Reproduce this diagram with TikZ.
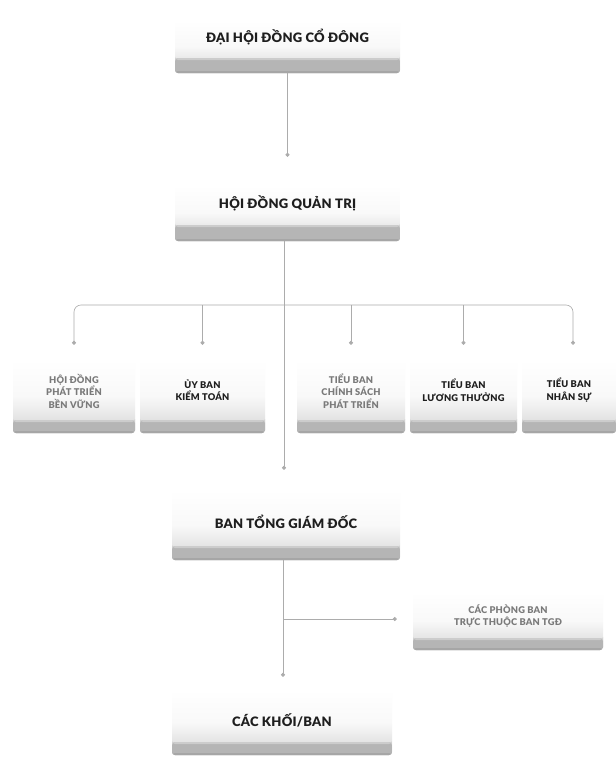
\documentclass[tikz,border=0pt]{standalone}
\usepackage{fontspec}
\setmainfont{Lato}
\newfontfamily\heavyfont{Lato Black}[LetterSpace=2]
\usetikzlibrary{arrows.meta}
\definecolor{txtdark}{HTML}{1E1E1E}
\definecolor{txtgray}{HTML}{7A7A7A}
\begin{document}
\begin{tikzpicture}[x=1pt,y=-1pt,
  bar/.store in=\barh, bar=13pt,
  card/.style={rectangle, rounded corners=3pt, inner sep=0pt,
    minimum width=#1,
    path picture={
      \shade[top color=white, bottom color=gray!32, middle color=gray!5]
        (path picture bounding box.north west) rectangle (path picture bounding box.south east);
      \fill[gray!58] ([yshift=\barh]path picture bounding box.south west) rectangle (path picture bounding box.south east);
      \fill[gray!40] ([yshift=\barh]path picture bounding box.south west) rectangle ([yshift=\barh-2pt]path picture bounding box.south east);
      \fill[gray!70] ([yshift=2pt]path picture bounding box.south west) rectangle (path picture bounding box.south east);
    }},
  title/.style={font=\heavyfont\fontsize{13}{15}\selectfont, text=txtdark, inner sep=0pt},
  small/.style={font=\heavyfont\fontsize{9.3}{12.5}\selectfont, text=txtdark, align=center, inner sep=0pt},
  smallgray/.style={small, text=txtgray},
  conn/.style={draw=gray!65, line width=0.6pt, -{Circle[length=4pt]}},
  plain/.style={draw=gray!65, line width=0.6pt}
]
\fill[white] (0,0) rectangle (616,758);
\useasboundingbox (0,0) rectangle (616,758);

% boxes
\node[card=225pt, minimum height=53pt, bar=15pt] (dhcd) at (287.5,46.5) {};
\node[card=225pt, minimum height=56pt, bar=16pt] (hdqt) at (287.5,213) {};
\node[card=122pt, minimum height=73pt] (c1) at (74,396.5) {};
\node[card=125pt, minimum height=73pt] (c2) at (202.5,396.5) {};
\node[card=108pt, minimum height=73pt] (c3) at (351,396.5) {};
\node[card=107pt, minimum height=73pt] (c4) at (463.5,396.5) {};
\node[card=94pt, minimum height=73pt] (c5) at (569,396.5) {};
\node[card=228pt, minimum height=70pt, bar=14pt] (btgd) at (286,525) {};
\node[card=190pt, minimum height=58pt, bar=12pt] (pb) at (508,621) {};
\node[card=220pt, minimum height=65pt, bar=13pt] (kb) at (282,722.5) {};

% texts
\node[title] (tdhcd) at (287.5,37) {ĐẠI HỘI ĐỒNG CỔ ĐÔNG};
\node[title] (thdqt) at (287.5,203) {HỘI ĐỒNG QUẢN TRỊ};
\node[smallgray] (tc1) at (74,391) {HỘI ĐỒNG\\PHÁT TRIỂN\\BỀN VỮNG};
\node[small] (tc2) at (202.5,390) {ỦY BAN\\KIỂM TOÁN};
\node[smallgray] (tc3) at (351,391) {TIỂU BAN\\CHÍNH SÁCH\\PHÁT TRIỂN};
\node[small] (tc4) at (463.5,390) {TIỂU BAN\\LƯƠNG THƯỞNG};
\node[small] (tc5) at (569,390) {TIỂU BAN\\NHÂN SỰ};
\node[title] (tbtgd) at (286,522) {BAN TỔNG GIÁM ĐỐC};
\node[smallgray] (tpb) at (508,616) {CÁC PHÒNG BAN\\TRỰC THUỘC BAN TGĐ};
\node[title] (tkb) at (282,720) {CÁC KHỐI/BAN};

% connectors
\coordinate (bus) at (284,305);
\coordinate (br) at (283,619);
\draw[conn, shorten >=28pt] (dhcd.south) -- (dhcd.south |- hdqt.north);
\draw[conn, shorten >=20pt] ([xshift=-3.5pt]hdqt.south) -- ([xshift=-3.5pt]hdqt.south |- btgd.north);
\draw[conn, rounded corners=7pt, shorten >=15pt] (bus) -| (c1.north);
\draw[conn, rounded corners=7pt, shorten >=15pt] (bus) -| ([xshift=4pt]c5.north);
\draw[conn, shorten >=15pt] (c2.north |- bus) -- (c2.north);
\draw[conn, shorten >=15pt] (c3.north |- bus) -- (c3.north);
\draw[conn, shorten >=15pt] (c4.north |- bus) -- (c4.north);
\draw[conn, shorten >=13pt] ([xshift=-3pt]btgd.south) -- ([xshift=-3pt]btgd.south |- kb.north);
\draw[conn, shorten >=16pt] (br) -- (br -| pb.west);
\end{tikzpicture}
\end{document}
